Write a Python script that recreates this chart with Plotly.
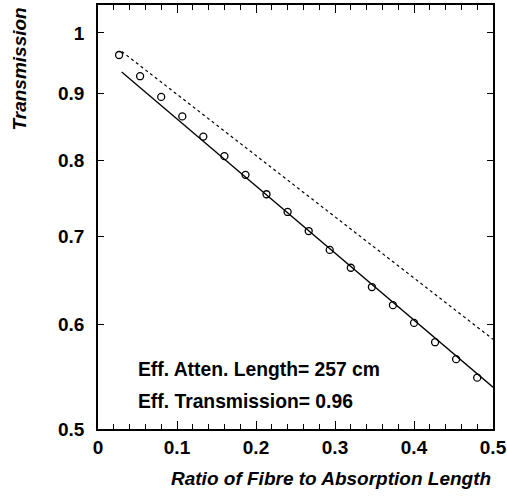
import plotly.graph_objects as go
import math

# Data
ratio = [0.0267, 0.0533, 0.08, 0.1067, 0.1333, 0.16, 0.1867, 0.2133, 0.24,
         0.2667, 0.2933, 0.32, 0.3467, 0.3733, 0.40, 0.4267, 0.4533, 0.48]
transmission = [0.962, 0.927, 0.894, 0.864, 0.834, 0.806, 0.780, 0.754, 0.731,
                0.707, 0.684, 0.663, 0.641, 0.621, 0.602, 0.582, 0.565, 0.547]

fit_x = [0.03, 0.5]
fit_y = [0.934, 0.538]

ref_x = [0.03, 0.5]
ref_y = [0.968, 0.585]

ytick_vals = [0.5, 0.6, 0.7, 0.8, 0.9, 1.0]
ytick_text = ["0.5", "0.6", "0.7", "0.8", "0.9", "1"]
xtick_vals = [0, 0.1, 0.2, 0.3, 0.4, 0.5]
xtick_text = ["0", "0.1", "0.2", "0.3", "0.4", "0.5"]

FONT = "Liberation Sans, Arial, sans-serif"

fig = go.Figure()
fig.add_trace(go.Scatter(x=ref_x, y=ref_y, mode="lines",
                         line=dict(color="black", width=1.2, dash="3px,3px")))
fig.add_trace(go.Scatter(x=fit_x, y=fit_y, mode="lines",
                         line=dict(color="black", width=1.3)))
fig.add_trace(go.Scatter(x=ratio, y=transmission, mode="markers",
                         marker=dict(symbol="circle-open", size=7,
                                     color="black", line=dict(width=1.3))))

fig.update_layout(
    width=507, height=496,
    margin=dict(l=98, r=14, t=5, b=67, autoexpand=False),
    plot_bgcolor="white", paper_bgcolor="white",
    showlegend=False,
    font=dict(family=FONT, color="black"),
    xaxis=dict(range=[0, 0.5], showline=True, linecolor="black", linewidth=1.5,
               mirror="ticks", ticks="inside", ticklen=8, tickwidth=1,
               tickcolor="black", tickvals=xtick_vals, ticktext=xtick_text,
               tickfont=dict(size=19, family=FONT, weight="bold"),
               ticklabelstandoff=0, automargin=False,
               showgrid=False, zeroline=False,
               minor=dict(dtick=0.02, ticks="inside", ticklen=5,
                          tickcolor="black", showgrid=False)),
    yaxis=dict(type="log", range=[math.log10(0.5), math.log10(1.05)],
               showline=True, linecolor="black", linewidth=1.5,
               mirror="ticks", ticks="inside", ticklen=6, tickwidth=1,
               tickcolor="black", tickvals=ytick_vals, ticktext=ytick_text,
               tickfont=dict(size=19, family=FONT, weight="bold"),
               ticklabelstandoff=8, automargin=False,
               showgrid=False, zeroline=False),
    annotations=[
        dict(text="Eff. Atten. Length= 257 cm", xref="paper", yref="paper",
             x=0.096, y=0.1415, xanchor="left", yanchor="middle",
             showarrow=False, font=dict(size=19.3, family=FONT, weight="bold")),
        dict(text="Eff. Transmission= 0.96", xref="paper", yref="paper",
             x=0.096, y=0.0637, xanchor="left", yanchor="middle",
             showarrow=False, font=dict(size=19.3, family=FONT, weight="bold")),
        dict(text="Ratio of Fibre to Absorption Length", xref="paper", yref="paper",
             x=1.0, y=-0.1156, xanchor="right", yanchor="middle",
             showarrow=False,
             font=dict(size=19, family=FONT, weight="bold", style="italic")),
        dict(text="Transmission", xref="paper", yref="paper",
             x=-0.1975, y=1.0, xanchor="center", yanchor="top", textangle=-90,
             showarrow=False,
             font=dict(size=19, family=FONT, weight="bold", style="italic")),
    ],
)

fig.write_html("out.html", config={"displayModeBar": False},
               post_script="document.body.style.margin='0';")
